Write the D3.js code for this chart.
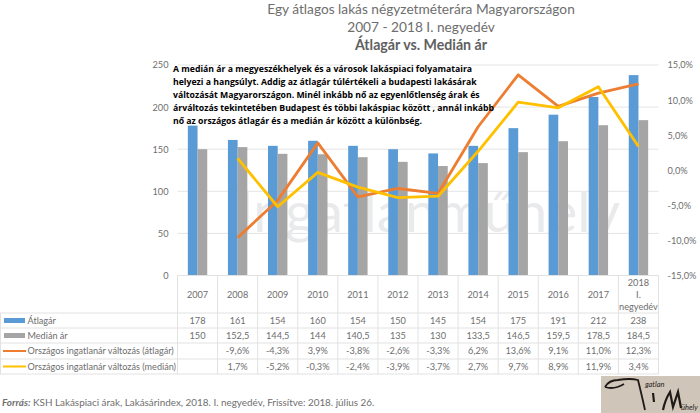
<!DOCTYPE html>
<html>
<head>
<meta charset="utf-8">
<script src="https://cdnjs.cloudflare.com/ajax/libs/d3/7.8.5/d3.min.js"></script>
<style>
  html, body { margin: 0; padding: 0; background: #fff; }
  svg { display: block; }
  text { font-family: Lato, sans-serif; }
</style>
</head>
<body>
<script>
var years = ['2007','2008','2009','2010','2011','2012','2013','2014','2015','2016','2017','2018 I. negyedév'];
var atlagar = [178,161,154,160,154,150,145,154,175,191,212,238];
var median = [150,152.5,144.5,144,140.5,135,130,133.5,146.5,159.5,178.5,184.5];
var valtAtlag = [null,-9.6,-4.3,3.9,-3.8,-2.6,-3.3,6.2,13.6,9.1,11.0,12.3];
var valtMedian = [null,1.7,-5.2,-0.3,-2.4,-3.9,-3.7,2.7,9.7,8.9,11.9,3.4];
var leftTicks = [0,50,100,150,200,250];
var rightTicks = [-15,-10,-5,0,5,10,15];
var titleLines = ['Egy átlagos lakás négyzetméterára Magyarországon','2007 - 2018 I. negyedév'];
var subtitle = 'Átlagár vs. Medián ár';
var note = [
  'A medián ár a megyeszékhelyek és a városok lakáspiaci folyamataira',
  'helyezi a hangsúlyt. Addig az átlagár túlértékeli a budapesti lakásárak',
  'változását Magyarországon. Minél inkább nő az egyenlőtlenség árak és',
  'árváltozás tekintetében Budapest és többi lakáspiac között , annál inkább',
  'nő az országos átlagár és a medián ár között a különbség.'
];

var blue = '#5b9bd5', gray = '#a5a5a5', orange = '#ed7d31', yellow = '#ffc000';
var txt = '#6e6e6e', grid = '#e4e4e4';

var svg = d3.select('body').append('svg').attr('width', 700).attr('height', 413);

var top_ = 65, bottom = 275.5, left = 177.5, right = 658.5;

var x = d3.scaleBand().domain(years).range([left, right]);
var yL = d3.scaleLinear().domain([0, 250]).range([bottom, top_]);
var yR = d3.scaleLinear().domain([-15, 15]).range([bottom, top_]);
var fmt = function(v) { return d3.format('.1f')(v).replace('.', ',').replace('−', '-'); };

// titles
svg.selectAll('.title').data(titleLines).enter().append('text')
  .attr('x', 421).attr('y', function(d, i) { return 14 + i * 18; })
  .attr('text-anchor', 'middle').attr('font-size', 13.7).attr('fill', txt)
  .text(function(d) { return d; });
svg.append('text').attr('x', 421).attr('y', 50).attr('text-anchor', 'middle')
  .attr('font-size', 14.2).attr('font-weight', 700).attr('fill', '#606060').text(subtitle);

// gridlines
svg.selectAll('.grid').data(leftTicks.slice(1)).enter().append('line')
  .attr('x1', left).attr('x2', right)
  .attr('y1', function(d) { return yL(d); }).attr('y2', function(d) { return yL(d); })
  .attr('stroke', grid).attr('stroke-width', 1);

// watermark
svg.append('text').attr('x', 429).attr('y', 232).attr('text-anchor', 'middle')
  .attr('font-size', 57).attr('fill', '#e9eaec').text('Ingatlanműhely');

// axes
var axL = svg.append('g').attr('transform', 'translate(' + left + ',0)')
  .call(d3.axisLeft(yL).tickValues(leftTicks).tickSize(0).tickPadding(9));
var axR = svg.append('g').attr('transform', 'translate(' + right + ',0)')
  .call(d3.axisRight(yR).tickValues(rightTicks).tickSize(0).tickPadding(9)
    .tickFormat(function(d) { return fmt(d) + '%'; }));
[axL, axR].forEach(function(a) {
  a.select('.domain').remove();
  a.selectAll('text').attr('font-size', 9.2).attr('fill', txt).style('font-family', 'Lato, sans-serif');
});

// bars
var barW = 9.7;
svg.selectAll('.b1').data(atlagar).enter().append('rect')
  .attr('x', function(d, i) { return x(years[i]) + x.bandwidth() / 2 - barW; })
  .attr('y', function(d) { return yL(d); })
  .attr('width', barW).attr('height', function(d) { return bottom - yL(d); })
  .attr('fill', blue);
svg.selectAll('.b2').data(median).enter().append('rect')
  .attr('x', function(d, i) { return x(years[i]) + x.bandwidth() / 2; })
  .attr('y', function(d) { return yL(d); })
  .attr('width', barW).attr('height', function(d) { return bottom - yL(d); })
  .attr('fill', gray);

// lines
var line = d3.line()
  .defined(function(d) { return d !== null; })
  .x(function(d, i) { return x(years[i]) + x.bandwidth() / 2; })
  .y(function(d) { return yR(d); });
[[valtAtlag, orange], [valtMedian, yellow]].forEach(function(s) {
  svg.append('path').attr('d', line(s[0])).attr('fill', 'none')
    .attr('stroke', s[1]).attr('stroke-width', 2.8).attr('stroke-linejoin', 'round');
});

// note
svg.selectAll('.note').data(note).enter().append('text')
  .attr('x', 173).attr('y', function(d, i) { return 72 + i * 13; })
  .attr('font-size', 8.7).attr('font-weight', 700).attr('fill', '#000')
  .style('font-family', '"Open Sans", sans-serif')
  .text(function(d) { return d; });

// data table
var rowY = [313, 328, 343, 359, 374];
var tableLine = '#e2e2e2';
svg.selectAll('.rowline').data(rowY).enter().append('line')
  .attr('x1', 0).attr('x2', right)
  .attr('y1', function(d) { return d; }).attr('y2', function(d) { return d; })
  .attr('stroke', tableLine);
svg.append('line').attr('x1', left).attr('x2', right).attr('y1', bottom).attr('y2', bottom).attr('stroke', tableLine);
svg.selectAll('.vline').data(years.concat(['end'])).enter().append('line')
  .attr('x1', function(d, i) { return left + i * x.bandwidth(); })
  .attr('x2', function(d, i) { return left + i * x.bandwidth(); })
  .attr('y1', bottom).attr('y2', 374).attr('stroke', tableLine);
svg.append('line').attr('x1', 0.5).attr('x2', 0.5).attr('y1', 313).attr('y2', 374).attr('stroke', tableLine);

// header cells
years.forEach(function(y) {
  var cx = x(y) + x.bandwidth() / 2;
  var parts = y === years[11] ? ['2018', 'I.', 'negyedév'] : [y];
  var startY = parts.length === 1 ? 297.5 : 286;
  parts.forEach(function(p, j) {
    svg.append('text').attr('x', cx).attr('y', startY + j * 12.2).attr('text-anchor', 'middle')
      .attr('font-size', 9.2).attr('fill', txt).text(p);
  });
});

// table rows
var rows = [
  { name: 'Átlagár', vals: atlagar, color: blue, bar: true, f: function(v) { return String(v).replace('.', ','); } },
  { name: 'Medián ár', vals: median, color: gray, bar: true, f: function(v) { return String(v).replace('.', ','); } },
  { name: 'Országos ingatlanár változás (átlagár)', vals: valtAtlag, color: orange, f: function(v) { return fmt(v) + '%'; } },
  { name: 'Országos ingatlanár változás (medián)', vals: valtMedian, color: yellow, f: function(v) { return fmt(v) + '%'; } }
];
rows.forEach(function(r, k) {
  var cy = (rowY[k] + rowY[k + 1]) / 2;
  if (r.bar) {
    svg.append('rect').attr('x', 4).attr('y', cy - 2.5).attr('width', 21).attr('height', 5).attr('fill', r.color);
  } else {
    svg.append('line').attr('x1', 3).attr('x2', 26).attr('y1', cy).attr('y2', cy)
      .attr('stroke', r.color).attr('stroke-width', 2);
  }
  svg.append('text').attr('x', 27.5).attr('y', cy + 3).attr('font-size', 9.1).attr('fill', txt).text(r.name);
  r.vals.forEach(function(v, i) {
    if (v === null) return;
    svg.append('text').attr('x', x(years[i]) + x.bandwidth() / 2).attr('y', cy + 3)
      .attr('text-anchor', 'middle').attr('font-size', 9.2).attr('fill', txt).text(r.f(v));
  });
});

// source
var src = svg.append('text').attr('x', 2).attr('y', 405.5).attr('font-size', 9.9).attr('fill', txt);
src.append('tspan').attr('font-weight', 700).attr('font-style', 'italic').text('Forrás:');
src.append('tspan').text(' KSH Lakáspiaci árak, Lakásárindex, 2018. I. negyedév, Frissítve: 2018. július 26.');

// logo
svg.append('rect').attr('x', 601).attr('y', 376).attr('width', 99).attr('height', 37).attr('fill', '#cfc5b8');
svg.append('path').attr('d', 'M605 387 Q609 380 618 380 Q630 378 638 380 Q641 392 645 410 M605 387 Q614 390 624 384')
  .attr('fill', 'none').attr('stroke', '#1f1a18').attr('stroke-width', 1.8);
svg.append('path').attr('d', 'M653 393 L654 402 M663 410 Q665 400 670 392 L673 407 Q676 398 678 392 L681 408')
  .attr('fill', 'none').attr('stroke', '#1f1a18').attr('stroke-width', 2.2);
svg.append('text').attr('x', 645).attr('y', 387).attr('font-size', 7.5).attr('font-style', 'italic')
  .attr('fill', '#2a2320').text('gatlan');
svg.append('text').attr('x', 681).attr('y', 410).attr('font-size', 7.5).attr('font-style', 'italic')
  .attr('fill', '#2a2320').text('ühely');
</script>
</body>
</html>
